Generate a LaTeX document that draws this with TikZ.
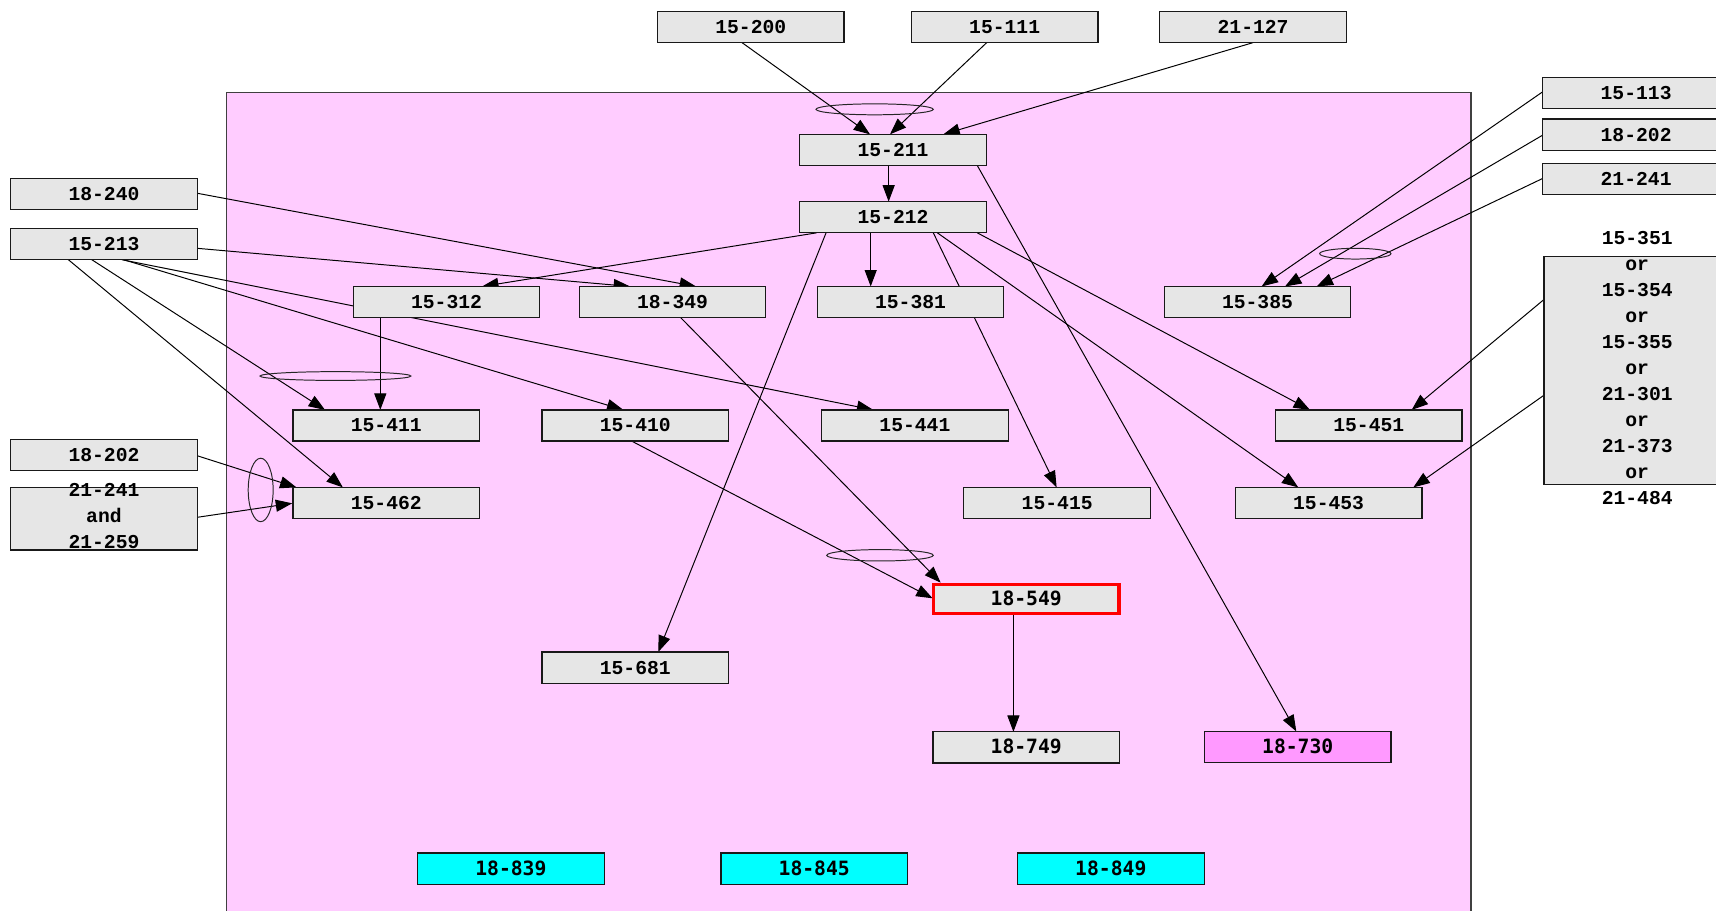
\documentclass[tikz,border=0pt]{standalone}
\usepackage{fontspec}
\usetikzlibrary{calc,arrows.meta}
\newfontfamily\courfont{Liberation Mono}
\newfontfamily\sansmono{DejaVu Sans Mono}
\definecolor{nodegray}{HTML}{E6E6E6}
\definecolor{clusterpink}{HTML}{FFCCFF}
\definecolor{hotpink}{HTML}{FF99FF}
\definecolor{aqua}{HTML}{00FFFF}
\definecolor{framegray}{HTML}{404040}
\pgfdeclarelayer{bg}
\pgfdeclarelayer{edgelayer}
\pgfsetlayers{bg,edgelayer,main}

\begin{document}
\begin{tikzpicture}[x=1pt,y=-1pt,
  box/.style={draw=black!90, line width=1.1pt, fill=nodegray,
    minimum width=170.5pt, minimum height=28.5pt, inner sep=0pt,
    font=\courfont\bfseries\fontsize{18}{23.7}\selectfont,
    text height=11.8pt, text depth=0pt},
  sbox/.style={box, font=\sansmono\bfseries\fontsize{18}{23.7}\selectfont},
  lbl/.style={inner sep=0pt, align=center,
    font=\courfont\bfseries\fontsize{18}{23.7}\selectfont},
  link/.style={line width=0.9pt, draw=black,
    -{Triangle[length=15pt,width=11pt]}},
  group/.style={draw=black!85, line width=0.9pt},
]
\useasboundingbox (0,0) rectangle (1568,832);

% ---------- page and cluster ----------
\begin{pgfonlayer}{bg}
  \fill[white] (0,0) rectangle (1568,832);
  \draw[fill=clusterpink, draw=framegray, line width=1.3pt]
    (207.2,84.7) rectangle (1344,860);
\end{pgfonlayer}

% ---------- outside nodes ----------
\node[box] (n15200) at (686,24.7) {15-200};
\node[box] (n15111) at (918,24.7) {15-111};
\node[box] (n21127) at (1145,24.7) {21-127};
\node[box] (n18240) at (95,177) {18-240};
\node[box] (n15213) at (95,223) {15-213};
\node[box] (n18202l) at (95,416) {18-202};
\node[box, minimum height=57pt] (n21241l) at (95,474) {};
\node[lbl] at (95,471.5) {21-241\\and\\21-259};
\node[box] (n15113) at (1495,85) {15-113};
\node[box] (n18202r) at (1495,123) {18-202};
\node[box] (n21241r) at (1495,163.5) {21-241};
\node[box, minimum height=208pt] (nbig) at (1496,338.5) {};
\node[lbl] at (1496,336.3) {15-351\\or\\15-354\\or\\15-355\\or\\21-301\\or\\21-373\\or\\21-484};

% ---------- inside nodes ----------
\node[box] (n15211) at (816,137) {15-211};
\node[box] (n15212) at (816,198.5) {15-212};
\node[box] (n15312) at (408,276) {15-312};
\node[box] (n18349) at (614.5,276) {18-349};
\node[box] (n15381) at (832,276) {15-381};
\node[box] (n15385) at (1149,276) {15-385};
\node[box] (n15411) at (353,388.8) {15-411};
\node[box] (n15410) at (580.5,388.8) {15-410};
\node[box] (n15441) at (836,388.8) {15-441};
\node[box] (n15451) at (1250.7,388.8) {15-451};
\node[box] (n15462) at (353,459.6) {15-462};
\node[box] (n15415) at (966,459.6) {15-415};
\node[box] (n15453) at (1214,459.6) {15-453};
\node[sbox, draw=red, line width=3pt, minimum width=169.6pt, minimum height=26.6pt]
  (n18549) at (937.7,547.2) {18-549};
\node[box] (n15681) at (580.5,610) {15-681};
\node[sbox] (n18749) at (937.7,683) {18-749};
\node[sbox, fill=hotpink] (n18730) at (1185.8,682.6) {18-730};
\node[sbox, fill=aqua] (n18839) at (466.8,793.7) {18-839};
\node[sbox, fill=aqua] (n18845) at (744,793.7) {18-845};
\node[sbox, fill=aqua] (n18849) at (1015,793.7) {18-849};

% ---------- connectors ----------
\begin{pgfonlayer}{edgelayer}
  \draw[link] ($(n15200)+(-8,14.25)$) -- ($(n15211)+(-21,-14.25)$);
  \draw[link] ($(n15111)+(-16.4,14.25)$) -- ($(n15211)+(-2.8,-14.25)$);
  \draw[link] ($(n21127)+(0,14.25)$) -- ($(n15211)+(46,-14.25)$);
  \draw[link] ($(n15211)+(-4,14.25)$) -- ($(n15212)+(-4,-14.25)$);
  \draw[link] ($(n15211)+(77,14.25)$) -- ($(n18730)+(-1.3,-14.25)$);
  \draw[link] ($(n15212)+(-69.8,14.25)$) -- ($(n15312)+(32.5,-14.25)$);
  \draw[link] ($(n15212)+(-61.2,14.25)$) -- ($(n15681)+(21,-14.25)$);
  \draw[link] ($(n15212)+(-20.4,14.25)$) -- ($(n15381)+(-36.4,-14.25)$);
  \draw[link] ($(n15212)+(36.8,14.25)$) -- ($(n15415)+(-0.5,-14.25)$);
  \draw[link] ($(n15212)+(40.5,14.25)$) -- ($(n15453)+(-27.7,-14.25)$);
  \draw[link] ($(n15212)+(77,14.25)$) -- ($(n15451)+(-53.7,-14.25)$);
  \draw[link] ($(n18240)+(85.25,-0.4)$) -- ($(n18349)+(21.5,-14.25)$);
  \draw[link] ($(n15213)+(85.25,3.9)$) -- ($(n18349)+(-38.8,-14.25)$);
  \draw[link] ($(n15213)+(-11.2,14.25)$) -- ($(n15411)+(-56,-14.25)$);
  \draw[link] ($(n15213)+(-32.6,14.25)$) -- ($(n15462)+(-39.7,-14.25)$);
  \draw[link] ($(n15213)+(17.7,14.25)$) -- ($(n15410)+(-10.9,-14.25)$);
  \draw[link] ($(n15213)+(16.2,14.25)$) -- ($(n15441)+(-38,-14.25)$);
  \draw[link] ($(n15312)+(-60.5,14.25)$) -- ($(n15411)+(-5.5,-14.25)$);
  \draw[link] ($(n18349)+(7.5,14.25)$) -- ($(n18549)+(-78.2,-14.8)$);
  \draw[link] ($(n15410)+(-3.3,14.25)$) -- ($(n18549)+(-85.5,-0.5)$);
  \draw[link] ($(n18549)+(-11.7,14.8)$) -- ($(n18749)+(-11.7,-14.25)$);
  \draw[link] ($(n15113)+(-85.25,-1.2)$) -- ($(n15385)+(3.8,-14.25)$);
  \draw[link] ($(n18202r)+(-85.25,0.4)$) -- ($(n15385)+(25.2,-14.25)$);
  \draw[link] ($(n21241r)+(-85.25,-0.5)$) -- ($(n15385)+(54.1,-14.25)$);
  \draw[link] ($(nbig)+(-85,-65)$) -- ($(n15451)+(39.2,-14.25)$);
  \draw[link] ($(nbig)+(-85,22.5)$) -- ($(n15453)+(77.4,-14.25)$);
  \draw[link] ($(n18202l)+(85.1,0.4)$) -- ($(n15462)+(-82.1,-14.25)$);
  \draw[link] ($(n21241l)+(85.1,-1.3)$) -- ($(n15462)+(-86,0.3)$);

  % grouping rings around edges that join at one target
  \draw[group] (799.2,99.9) ellipse [x radius=53.6, y radius=5];
  \draw[group] (306.5,343.6) ellipse [x radius=68.9, y radius=4];
  \draw[group] (238.2,447.7) ellipse [x radius=11.4, y radius=29];
  \draw[group] (1238.4,231.8) ellipse [x radius=32.6, y radius=4.9];
  \draw[group] (804.1,507.4) ellipse [x radius=48.7, y radius=5.2];
\end{pgfonlayer}
\end{tikzpicture}
\end{document}
